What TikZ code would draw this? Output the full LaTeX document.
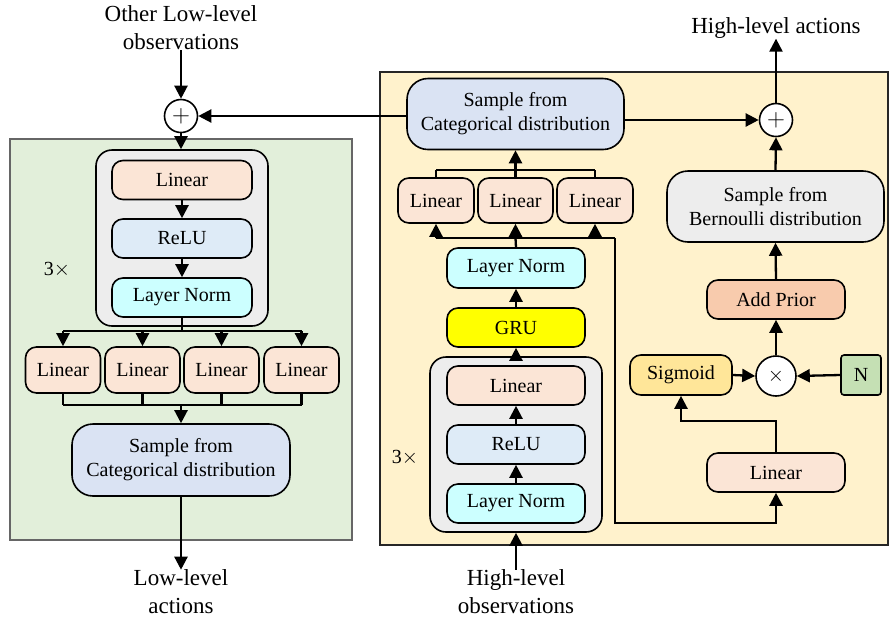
\documentclass[tikz,border=0pt]{standalone}
\usepackage{fontspec}
\setmainfont{Liberation Serif}
\usetikzlibrary{arrows.meta}
\definecolor{gpanel}{HTML}{E2EFDA}
\definecolor{ypanel}{HTML}{FFF2CC}
\definecolor{grayb}{HTML}{EDEDED}
\definecolor{linc}{HTML}{FBE5D6}
\definecolor{reluc}{HTML}{DEEBF7}
\definecolor{lnc}{HTML}{CCFFFF}
\definecolor{catc}{HTML}{DAE3F3}
\definecolor{gruc}{HTML}{FFFF00}
\definecolor{priorc}{HTML}{F8CBAD}
\definecolor{sigc}{HTML}{FFE699}
\definecolor{nc}{HTML}{C5E0B4}
\tikzset{
  box/.style={draw=black, line width=1.6pt, rounded corners=11pt, inner sep=0pt, align=center,
    font=\fontsize{20}{24}\selectfont},
  bigbox/.style={box, rounded corners=21pt},
  lbl/.style={align=center, font=\fontsize{23}{28}\selectfont, inner sep=0pt},
  arr/.style={line width=2.3pt, -{Triangle[length=13pt,width=13pt]}},
  ln/.style={line width=2.3pt},
  opc/.style={draw=black, line width=1.6pt, circle, fill=white, inner sep=0pt, font=\fontsize{24}{24}\selectfont},
}
\begin{document}
\begin{tikzpicture}[x=1pt,y=-1pt]
\useasboundingbox (0,0) rectangle (889,625);
% panels
\node[draw=black!60, line width=1.3pt, fill=gpanel, minimum width=342pt, minimum height=401pt, inner sep=0pt] (gp) at (181,339.5) {};
\node[draw=black!85, line width=1.3pt, fill=ypanel, minimum width=508pt, minimum height=473pt, inner sep=0pt] (yp) at (634,308.5) {};

% ---------- left part ----------
\node[lbl] (otherL) at (181,28) {Other Low-level\\observations};
\node[opc, minimum size=33pt] (plus1) at (181,116) {$+$};
\node[box, fill=grayb, rounded corners=16pt, minimum width=172pt, minimum height=176pt] (gb1) at (182,238) {};
\node[box, fill=linc, minimum width=140pt, minimum height=39pt] (lin1) at (182,180) {Linear};
\node[box, fill=reluc, minimum width=140pt, minimum height=39pt] (relu1) at (182,238.5) {ReLU};
\node[box, fill=lnc, minimum width=140pt, minimum height=39pt] (lnA) at (182,297.5) {Layer Norm};
\node[lbl, font=\fontsize{20}{24}\selectfont] (rep1) at (57,270) {3$\times$};

\node[box, fill=linc, minimum width=75pt, minimum height=46pt] (la) at (63,370) {Linear};
\node[box, fill=linc, minimum width=75pt, minimum height=46pt] (lb) at (142.5,370) {Linear};
\node[box, fill=linc, minimum width=75pt, minimum height=46pt] (lc) at (221.5,370) {Linear};
\node[box, fill=linc, minimum width=75pt, minimum height=46pt] (ld) at (301.5,370) {Linear};
\node[bigbox, fill=catc, minimum width=218pt, minimum height=72pt] (cat1) at (181,460) {Sample from\\Categorical distribution};
\node[lbl] (lowL) at (181,592) {Low-level\\actions};

\draw[arr] (otherL.south) -- (plus1.north);
\draw[arr] (plus1.south) -- (plus1.south |- gb1.north);
\draw[arr] (lin1) -- (relu1);
\draw[arr] (relu1) -- (lnA);
\draw[ln] (lnA.south) -- ++(0,13) coordinate (sp);
\draw[ln] (la.north |- sp) -- (ld.north |- sp);
\foreach \n in {la,lb,lc,ld} \draw[arr] (\n.north |- sp) -- (\n.north);
\coordinate (jn) at (181,405);
\foreach \n in {la,lb,lc,ld} \draw[ln] (\n.south) -- (\n.south |- jn);
\draw[ln] (la.south |- jn) -- (ld.south |- jn);
\draw[arr] (cat1.north |- jn) -- (cat1.north);
\draw[arr] (cat1.south) -- (lowL.north);

% ---------- right part ----------
\node[bigbox, fill=catc, minimum width=217pt, minimum height=71pt] (cat2) at (515.5,114) {Sample from\\Categorical distribution};
\node[opc, minimum size=33pt] (plus2) at (776,120) {$+$};
\node[lbl] (highA) at (776,28) {High-level actions};

\node[box, fill=linc, minimum width=76pt, minimum height=45pt] (ha) at (436,200.5) {Linear};
\node[box, fill=linc, minimum width=75pt, minimum height=45pt] (hb) at (515.5,200.5) {Linear};
\node[box, fill=linc, minimum width=76pt, minimum height=45pt] (hc) at (595,200.5) {Linear};
\node[box, fill=lnc, minimum width=138pt, minimum height=40pt] (lnB) at (516,268) {Layer Norm};
\node[box, fill=gruc, minimum width=138pt, minimum height=39pt] (gru) at (516,327.5) {GRU};
\node[box, fill=grayb, rounded corners=16pt, minimum width=172pt, minimum height=175pt] (gb2) at (516,444.5) {};
\node[box, fill=linc, minimum width=138pt, minimum height=39pt] (lin2) at (516,385.5) {Linear};
\node[box, fill=reluc, minimum width=138pt, minimum height=39pt] (relu2) at (516,444.5) {ReLU};
\node[box, fill=lnc, minimum width=138pt, minimum height=39pt] (lnC) at (516,503.5) {Layer Norm};
\node[lbl, font=\fontsize{20}{24}\selectfont] (rep2) at (405,458) {3$\times$};
\node[lbl] (highO) at (516,592) {High-level\\observations};

\node[bigbox, fill=grayb, minimum width=217pt, minimum height=71pt] (bern) at (775.5,206.5) {Sample from\\Bernoulli distribution};
\node[box, fill=priorc, minimum width=138pt, minimum height=39pt] (prior) at (776,299.5) {Add Prior};
\node[opc, minimum size=40pt, font=\fontsize{22}{22}\selectfont] (times) at (776,376) {$\times$};
\node[box, fill=sigc, minimum width=102pt, minimum height=40pt] (sig) at (681,375) {Sigmoid};
\node[box, fill=nc, rounded corners=3pt, minimum width=40pt, minimum height=40pt] (nn) at (861,375) {N};
\node[box, fill=linc, minimum width=138pt, minimum height=39pt] (lin3) at (776,472.5) {Linear};

% connectors
\draw[arr] (cat2.west |- plus1) -- (plus1.east);
\draw[arr] (cat2.east |- plus2) -- (plus2.west);
\draw[arr] (plus2.north) -- (highA.south);
\coordinate (tj) at (515.5,170);
\foreach \n in {ha,hb,hc} \draw[ln] (\n.north) -- (\n.north |- tj);
\draw[ln] (ha.north |- tj) -- (hc.north |- tj);
\draw[arr] (tj) -- (cat2.south);
\coordinate (bj) at (515.5,238);
\coordinate (cr) at (615,238);
\draw[ln] (lnB.north) -- (bj);
\draw[ln] (ha.south |- bj) -- (cr);
\foreach \n in {ha,hb,hc} \draw[arr] (\n.south |- bj) -- (\n.south);
\draw[arr] (cr) -- (615,523) -| (lin3.south);
\draw[arr] (gru) -- (lnB);
\draw[arr] (gb2.north) -- (gru.south);
\draw[arr] (relu2) -- (lin2);
\draw[arr] (lnC) -- (relu2);
\draw[arr] (highO.north) -- (gb2.south);
\draw[arr] (lin3.north) |- (681,421) -- (sig.south);
\draw[arr] (sig.east) -- (times.west);
\draw[arr] (nn.west) -- (times.east);
\draw[arr] (times.north) -- (prior.south);
\draw[arr] (prior.north) -- (bern.south);
\draw[arr] (bern.north) -- (plus2.south);
\end{tikzpicture}
\end{document}
